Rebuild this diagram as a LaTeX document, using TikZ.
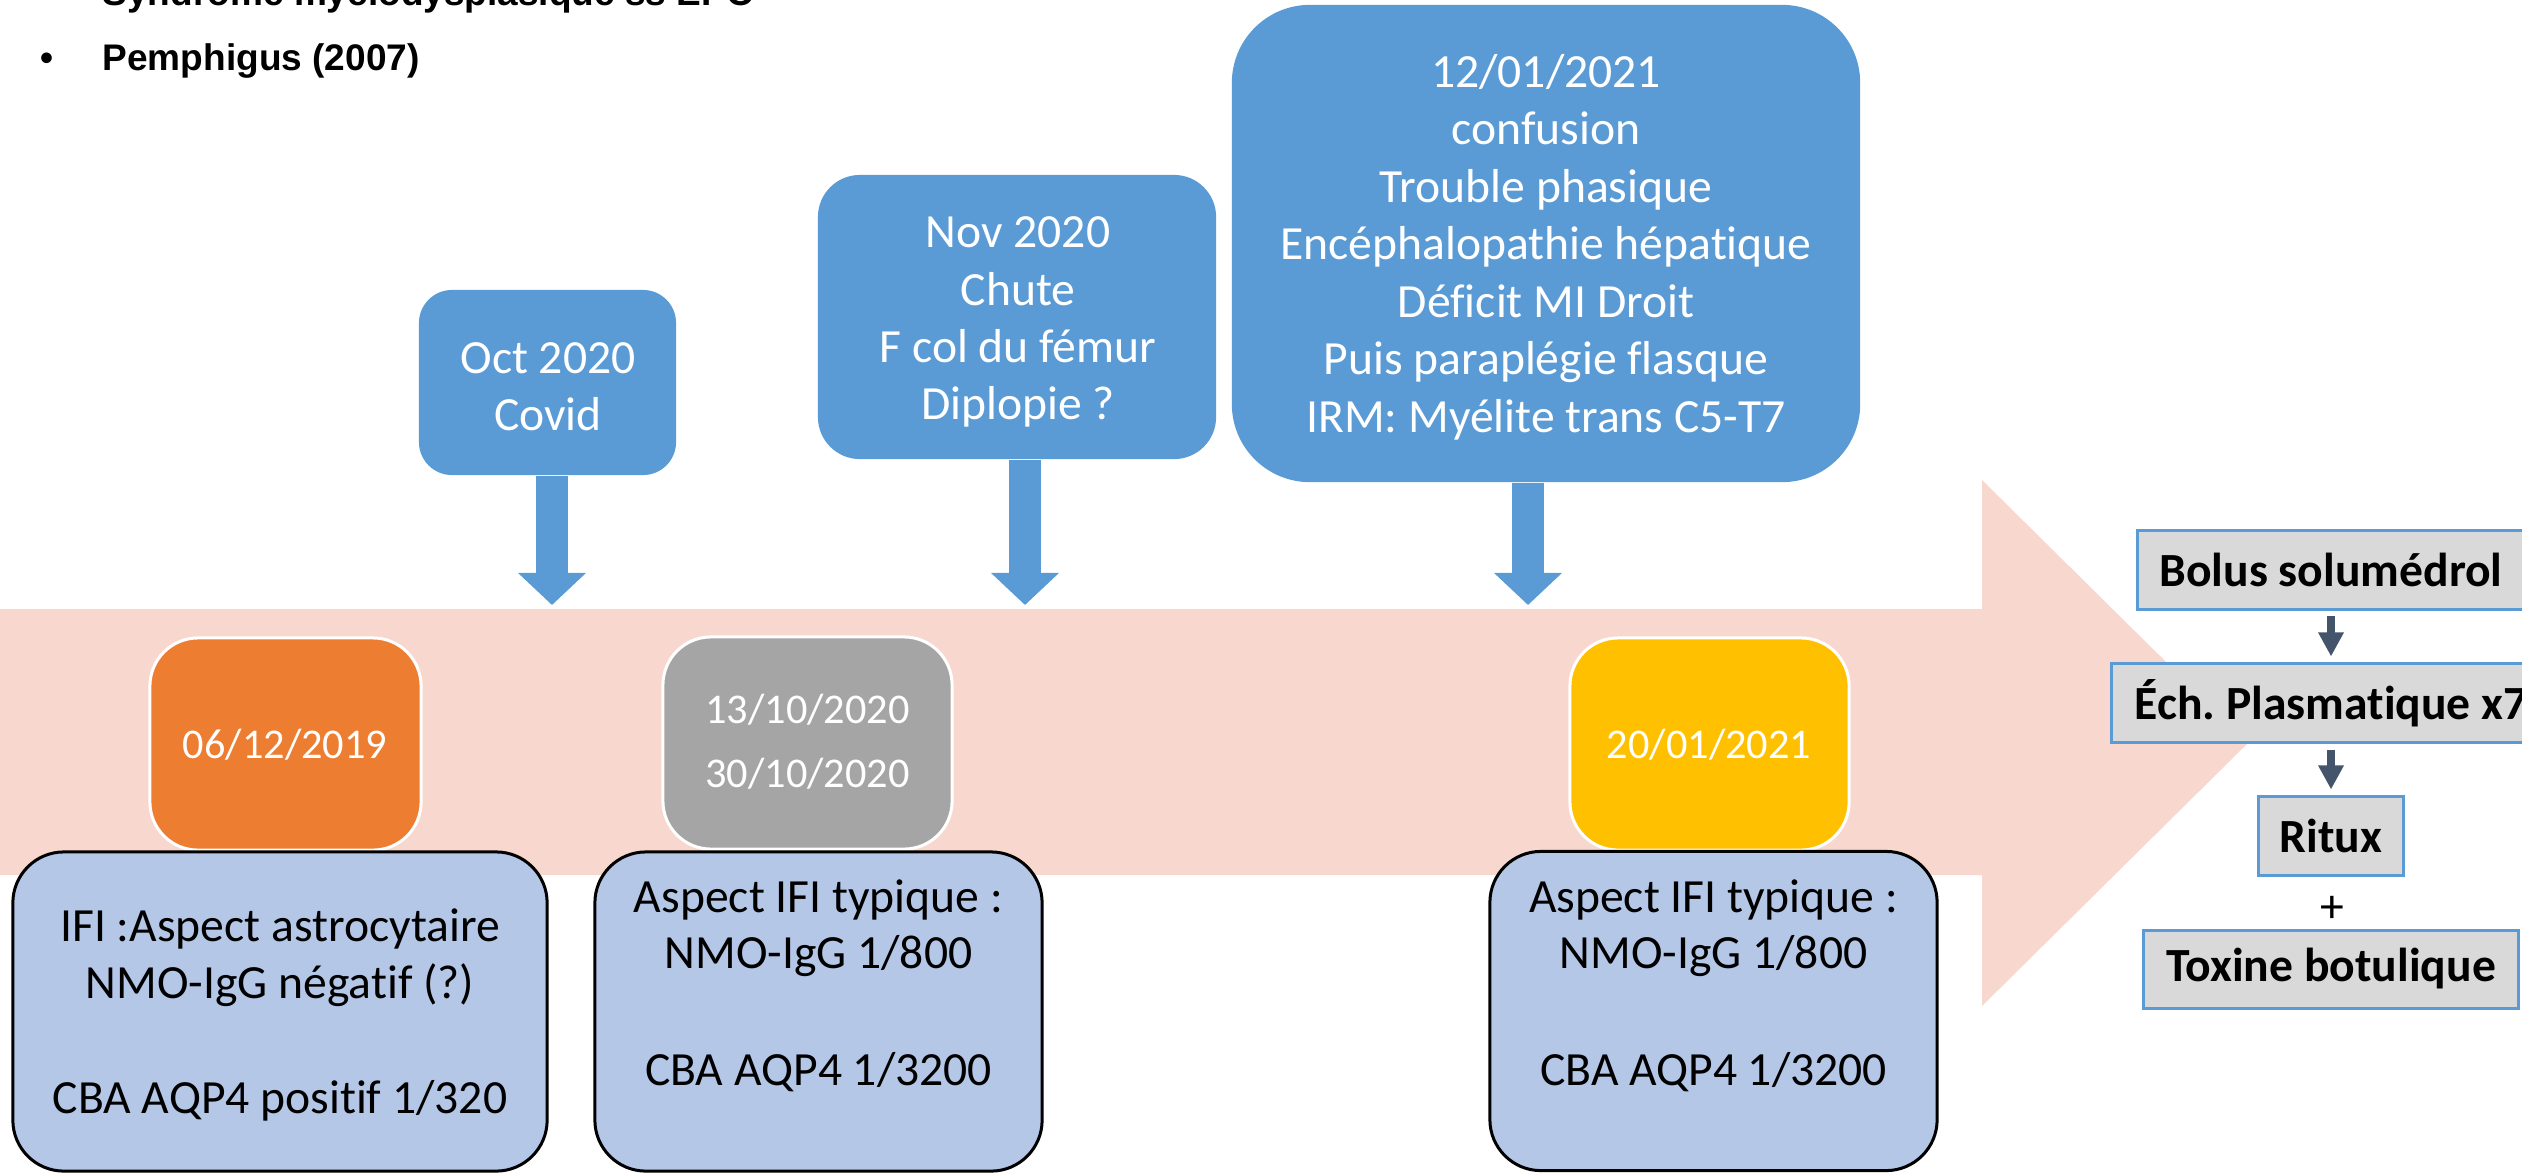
\documentclass[tikz,border=0pt]{standalone}
\usepackage{fontspec}
\setmainfont{Carlito}[Ligatures={NoCommon}]
\newfontfamily\arialf{Liberation Sans}
\usetikzlibrary{arrows.meta}
\frenchspacing
\definecolor{boxblue}{HTML}{5B9BD5}
\definecolor{lowfill}{HTML}{B4C7E7}
\definecolor{dorange}{HTML}{ED7D31}
\definecolor{dgray}{HTML}{A5A5A5}
\definecolor{dyellow}{HTML}{FFC000}
\definecolor{bandpink}{HTML}{F8D8CE}
\definecolor{rxfill}{HTML}{D9D9D9}
\definecolor{slate}{HTML}{44546A}
\begin{document}
\begin{tikzpicture}[x=0.01cm,y=-0.01cm,
  txt/.style={font=\fontsize{13.54}{16.2}\selectfont, inner sep=0pt, anchor=base},
  wtxt/.style={txt, text=white},
  datetxt/.style={font=\fontsize{12.04}{14}\selectfont, text=white, inner sep=0pt, anchor=base},
  topbox/.style={fill=boxblue, draw=none, inner sep=0pt},
  datebox/.style={draw=white, line width=0.03cm, inner sep=0pt, minimum height=2.12cm, rounded corners=0.48cm},
  lowbox/.style={fill=lowfill, draw=black, line width=0.03cm, rounded corners=0.51cm, minimum height=3.19cm, inner sep=0pt},
  rxbox/.style={fill=rxfill, draw=boxblue, line width=0.03cm, minimum height=0.78cm, inner sep=0pt, font=\bfseries\fontsize{13.54}{16}\selectfont},
  bigarrow/.style={draw=boxblue, line width=0.32cm, -{Triangle[width=0.66cm,length=0.32cm]}},
  smallarrow/.style={draw=slate, line width=0.08cm, -{Triangle[width=0.24cm,length=0.24cm]}},
  bultxt/.style={font=\arialf\bfseries\fontsize{10.53}{12}\selectfont, inner sep=0pt}
]
\useasboundingbox (0,0) rectangle (2522,1175);
\clip (0,0) rectangle (2522,1175);

% top-left list
\node[bultxt, anchor=base west] (syn) at (102,5) {Syndrome myélodysplasique ss EPO};
\node[bultxt, anchor=base] (bul) at (47,70) {•};
\node[bultxt, anchor=base west] (pem) at (102,70) {Pemphigus (2007)};

% timeline band arrow
\fill[bandpink] (0,609) -- (1982,609) -- (1982,480) -- (2248,743) -- (1982,1006) -- (1982,875) -- (0,875) -- cycle;

% top event boxes
\node[topbox, minimum width=2.57cm, minimum height=1.85cm, rounded corners=0.33cm] (boxA) at (547.5,382.5) {};
\node[topbox, minimum width=3.98cm, minimum height=2.84cm, rounded corners=0.42cm] (boxB) at (1017,317) {};
\node[topbox, minimum width=6.28cm, minimum height=4.77cm, rounded corners=0.78cm] (boxC) at (1546,243.5) {};

\node[wtxt] (a1) at (548,373) {Oct 2020};
\node[wtxt] (a2) at (548,430) {Covid};

\node[wtxt] (b1) at (1018,247) {Nov 2020};
\node[wtxt] (b2) at (1018,305) {Chute};
\node[wtxt] (b3) at (1018,362) {F col du fémur};
\node[wtxt] (b4) at (1018,419) {Diplopie ?};

\node[wtxt] (c1) at (1546,87) {12/01/2021};
\node[wtxt] (c2) at (1546,144.5) {confusion};
\node[wtxt] (c3) at (1546,202) {Trouble phasique};
\node[wtxt] (c4) at (1546,259.5) {Encéphalopathie hépatique};
\node[wtxt] (c5) at (1546,317) {Déficit MI Droit};
\node[wtxt] (c6) at (1546,374.5) {Puis paraplégie flasque};
\node[wtxt] (c7) at (1546,432) {IRM: Myélite trans C5-T7};

% arrows down to the band
\coordinate (tA) at (552,605);
\coordinate (tB) at (1025,605);
\coordinate (tC) at (1528,605);
\draw[bigarrow] (tA |- boxA.south) -- (tA);
\draw[bigarrow] (tB |- boxB.south) -- (tB);
\draw[bigarrow] (tC |- boxC.south) -- (tC);

% date boxes
\node[datebox, fill=dorange, minimum width=2.71cm] (d1) at (285.5,744) {};
\node[datebox, fill=dgray, minimum width=2.89cm] (d2) at (807.5,743) {};
\node[datebox, fill=dyellow, minimum width=2.79cm] (d3) at (1709.5,744) {};
\node[datetxt] (d1t) at (285,758) {06/12/2019};
\node[datetxt] (d2t) at (807.5,723) {13/10/2020};
\node[datetxt] (d2u) at (807.5,787) {30/10/2020};
\node[datetxt] (d3t) at (1709,758) {20/01/2021};

% lower result boxes
\node[lowbox, minimum width=5.34cm] (l1) at (280,1011.5) {};
\node[lowbox, minimum width=4.47cm] (l2) at (818.5,1011.5) {};
\node[lowbox, minimum width=4.47cm] (l3) at (1713.5,1011) {};

\node[txt] (l1a) at (280,941) {IFI :Aspect astrocytaire};
\node[txt] (l1b) at (280,998) {NMO-IgG négatif (?)};
\node[txt] (l1c) at (280,1113) {CBA AQP4 positif 1/320};

\node[txt] (l2a) at (818.5,912) {Aspect IFI typique :};
\node[txt] (l2b) at (818.5,968.5) {NMO-IgG 1/800};
\node[txt] (l2c) at (818.5,1085) {CBA AQP4 1/3200};

\node[txt] (l3a) at (1713.5,912) {Aspect IFI typique :};
\node[txt] (l3b) at (1713.5,968.5) {NMO-IgG 1/800};
\node[txt] (l3c) at (1713.5,1085) {CBA AQP4 1/3200};

% treatment column
\node[rxbox, minimum width=3.86cm] (bolus) at (2331,570) {Bolus solumédrol};
\node[rxbox, minimum width=4.38cm] (ech) at (2331,703) {Éch. Plasmatique x7};
\node[rxbox, minimum width=1.44cm] (ritux) at (2331,836) {Ritux};
\node[inner sep=0pt, font=\fontsize{13.54}{16}\selectfont] (plus) at (2332,909) {+};
\node[rxbox, minimum width=3.74cm] (tox) at (2331,969) {Toxine botulique};

\draw[smallarrow] ([yshift=-0.05cm]bolus.south) -- ([yshift=0.06cm]ech.north);
\draw[smallarrow] ([yshift=-0.06cm]ech.south) -- ([yshift=0.06cm]ritux.north);
\end{tikzpicture}
\end{document}
